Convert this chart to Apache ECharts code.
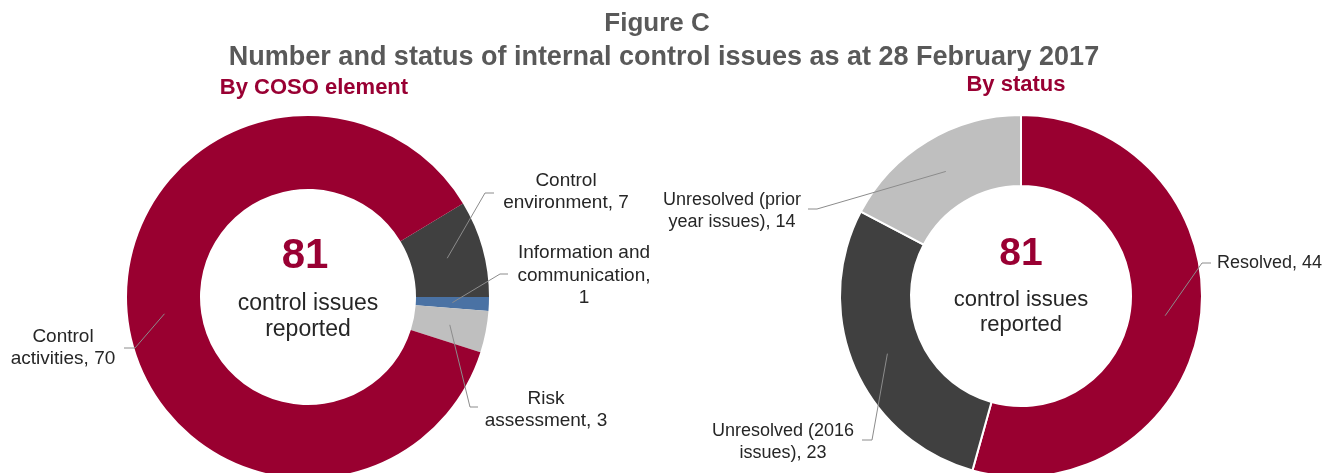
<!DOCTYPE html>
<html>
<head>
<meta charset="utf-8">
<script src="https://cdn.jsdelivr.net/npm/echarts@6/dist/echarts.min.js"></script>
<style>
  html, body { margin: 0; padding: 0; background: #ffffff; }
  #chart { width: 1336px; height: 473px; }
</style>
</head>
<body>
<div id="chart"></div>
<script>
// Issues by COSO element (listed clockwise from the top edge of "Control environment")
const cosoElements = ['Control\nenvironment', 'Information and\ncommunication', 'Risk\nassessment', 'Control\nactivities'];
const cosoCounts = [7, 1, 3, 70];
const cosoValueBreaks = [', ', ',\n', ', ', ', '];
const cosoColors = ['#404040', '#4a72a4', '#bfbfbf', '#990030'];

// Issues by status (clockwise from 12 o'clock)
const statusNames = ['Resolved', 'Unresolved (2016\nissues)', 'Unresolved (prior\nyear issues)'];
const statusCounts = [44, 23, 14];
const statusValueBreaks = [', ', ', ', ', '];
const statusColors = ['#990030', '#404040', '#bfbfbf'];

const figureTitle = 'Figure C';
const figureSubtitle = 'Number and status of internal control issues as at 28 February 2017';
const leftHeading = 'By COSO element';
const rightHeading = 'By status';
const centreCaption = 'control issues\nreported';

const RED = '#990033';
const FONT = 'Liberation Sans, Arial, Helvetica, sans-serif';

// Donut geometry
const leftPie = { cx: 308, cy: 297, r0: 108, r: 181 };
const rightPie = { cx: 1021, cy: 296, r0: 110, r: 181 };

// Callout placement: label position [x, y] plus the leader's elbow and end points
const leftCallouts = [
  { at: [566, 192], align: 'center', elbow: [485, 193], end: [494, 193] },
  { at: [584, 275.5], align: 'center', elbow: [500, 274], end: [508, 274] },
  { at: [546, 410], align: 'center', elbow: [470, 407], end: [478, 407] },
  { at: [63, 348], align: 'center', elbow: [135, 348], end: [124, 348] }
];
const rightCallouts = [
  { at: [1217, 263], align: 'left', elbow: [1202, 263], end: [1211, 263] },
  { at: [783, 442], align: 'center', elbow: [872, 440], end: [862, 440] },
  { at: [732, 211], align: 'center', elbow: [817, 209], end: [808, 209] }
];

const sum = arr => arr.reduce((a, b) => a + b, 0);

// Leader lines start mid-ring on the bisector of each slice
function makeLayout(pie, callouts) {
  return function (params) {
    const c = callouts[params.dataIndex];
    const midR = (pie.r0 + pie.r) / 2;
    const p = params.labelLinePoints && params.labelLinePoints[0];
    let dx = 1, dy = 0;
    if (p) { dx = p[0] - pie.cx; dy = p[1] - pie.cy; }
    const len = Math.sqrt(dx * dx + dy * dy) || 1;
    const anchor = [pie.cx + dx / len * midR, pie.cy + dy / len * midR];
    return {
      x: c.at[0],
      y: c.at[1],
      align: c.align,
      verticalAlign: 'middle',
      labelLinePoints: [anchor, c.elbow, c.end]
    };
  };
}

function buildData(names, values, colors) {
  return names.map((n, i) => ({ name: n, value: values[i], itemStyle: { color: colors[i] } }));
}

// Coloured ring
function ring(pie, names, values, colors, opts) {
  return {
    type: 'pie',
    z: 2,
    center: [pie.cx, pie.cy],
    radius: [pie.r0, pie.r],
    startAngle: opts.startAngle,
    clockwise: true,
    silent: true,
    animation: false,
    emphasis: { disabled: true, scale: false },
    itemStyle: { borderColor: '#ffffff', borderWidth: opts.border },
    label: { show: false },
    labelLine: { show: false },
    data: buildData(names, values, colors)
  };
}

// Transparent copy of the ring carrying the callouts, so leaders sit above the slices
function callouts(pie, names, values, breaks, layout, opts) {
  return {
    type: 'pie',
    z: 3,
    center: [pie.cx, pie.cy],
    radius: [pie.r0, pie.r],
    startAngle: opts.startAngle,
    clockwise: true,
    avoidLabelOverlap: false,
    silent: true,
    animation: false,
    emphasis: { disabled: true, scale: false },
    itemStyle: { color: 'rgba(0,0,0,0)', borderWidth: 0 },
    data: names.map((n, i) => ({ name: n, value: values[i] })),
    label: {
      show: true,
      position: 'outside',
      formatter: p => p.name + breaks[p.dataIndex] + p.value,
      color: '#262626',
      fontFamily: FONT,
      fontSize: opts.labelSize,
      lineHeight: opts.labelLine,
      align: 'center'
    },
    labelLine: {
      show: true,
      smooth: false,
      lineStyle: { color: '#8c8c8c', width: 1 }
    },
    labelLayout: makeLayout(pie, layout)
  };
}

const chart = echarts.init(document.getElementById('chart'), null, { renderer: 'canvas' });

const cosoTotal = sum(cosoCounts);
const statusTotal = sum(statusCounts);
const leftOpts = { startAngle: 360 * cosoCounts[0] / cosoTotal, border: 0, labelSize: 19, labelLine: 22.5 };
const rightOpts = { startAngle: 90, border: 2, labelSize: 18, labelLine: 21.5 };

chart.setOption({
  backgroundColor: '#ffffff',
  animation: false,
  title: [
    {
      text: figureTitle,
      left: 657,
      top: 9,
      padding: 0,
      textAlign: 'center',
      textStyle: { fontFamily: FONT, fontSize: 26, fontWeight: 'bold', color: '#595959', lineHeight: 30 }
    },
    {
      text: figureSubtitle,
      left: 664,
      top: 42,
      padding: 0,
      textAlign: 'center',
      textStyle: { fontFamily: FONT, fontSize: 27, fontWeight: 'bold', color: '#595959', lineHeight: 31 }
    },
    {
      text: leftHeading,
      left: 314,
      top: 76,
      padding: 0,
      textAlign: 'center',
      textStyle: { fontFamily: FONT, fontSize: 22, fontWeight: 'bold', color: RED, lineHeight: 24 }
    },
    {
      text: rightHeading,
      left: 1016,
      top: 73,
      padding: 0,
      textAlign: 'center',
      textStyle: { fontFamily: FONT, fontSize: 22, fontWeight: 'bold', color: RED, lineHeight: 24 }
    }
  ],
  series: [
    ring(leftPie, cosoElements, cosoCounts, cosoColors, leftOpts),
    ring(rightPie, statusNames, statusCounts, statusColors, rightOpts),
    callouts(leftPie, cosoElements, cosoCounts, cosoValueBreaks, leftCallouts, leftOpts),
    callouts(rightPie, statusNames, statusCounts, statusValueBreaks, rightCallouts, rightOpts)
  ],
  graphic: [
    {
      type: 'text', silent: true,
      style: { x: 305, y: 256, text: String(cosoTotal), fill: RED, font: 'bold 42px ' + FONT,
        align: 'center', verticalAlign: 'middle', textAlign: 'center', textVerticalAlign: 'middle' }
    },
    {
      type: 'text', silent: true,
      style: { x: 308, y: 317, text: centreCaption, fill: '#262626', font: '23px ' + FONT, lineHeight: 26,
        align: 'center', verticalAlign: 'middle', textAlign: 'center', textVerticalAlign: 'middle' }
    },
    {
      type: 'text', silent: true,
      style: { x: 1021, y: 254, text: String(statusTotal), fill: RED, font: 'bold 39px ' + FONT,
        align: 'center', verticalAlign: 'middle', textAlign: 'center', textVerticalAlign: 'middle' }
    },
    {
      type: 'text', silent: true,
      style: { x: 1021, y: 312.5, text: centreCaption, fill: '#262626', font: '22px ' + FONT, lineHeight: 25,
        align: 'center', verticalAlign: 'middle', textAlign: 'center', textVerticalAlign: 'middle' }
    }
  ]
});
</script>
</body>
</html>
